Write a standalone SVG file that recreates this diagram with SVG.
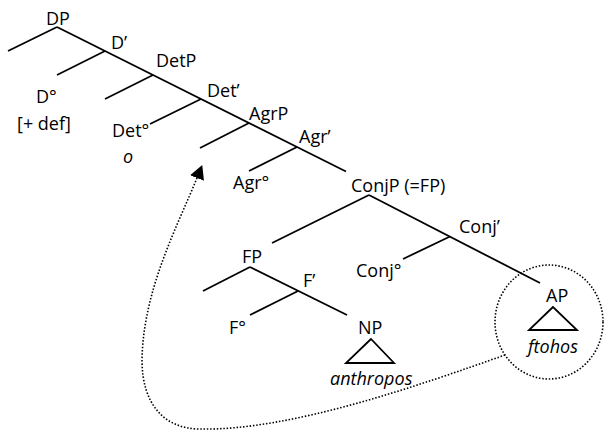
<svg xmlns="http://www.w3.org/2000/svg" width="604" height="432" viewBox="0 0 604 432">
<style>
.t{font-family:"Open Sans","Noto Sans","Liberation Sans",sans-serif;font-size:18px;fill:#000}
.i{font-style:italic}
.e{stroke:#000;stroke-width:1.8;fill:none;stroke-linecap:butt}
.tri{stroke:#000;stroke-width:1.8;fill:none;stroke-linejoin:miter}
.dot{stroke:#000;stroke-width:1.6;fill:none;stroke-dasharray:1.5 1.8}
</style>
<defs>
<marker id="ah" markerUnits="userSpaceOnUse" markerWidth="14" markerHeight="15" refX="0" refY="7.5" orient="auto" viewBox="0 0 14 15">
<path d="M0,0 L14,7.5 L0,15 z" fill="#000"/>
</marker>
</defs>
<rect width="604" height="432" fill="#fff"/>
<g id="connectors">
<line class="e" x1="57" y1="27" x2="346" y2="171.5"/>
<line class="e" x1="57" y1="27" x2="8" y2="51"/>
<line class="e" x1="105" y1="51" x2="57" y2="75"/>
<line class="e" x1="153" y1="75" x2="105" y2="99"/>
<line class="e" x1="201" y1="99" x2="150" y2="124"/>
<line class="e" x1="249" y1="123" x2="200" y2="148"/>
<line class="e" x1="297" y1="147" x2="249" y2="171"/>
<line class="e" x1="369" y1="195" x2="272" y2="243"/>
<line class="e" x1="369" y1="195" x2="540" y2="283"/>
<line class="e" x1="450" y1="236.5" x2="403" y2="259"/>
<line class="e" x1="250" y1="267" x2="203" y2="291"/>
<line class="e" x1="250" y1="267" x2="347" y2="315"/>
<line class="e" x1="298" y1="291" x2="250" y2="315"/>
<ellipse class="dot" cx="549" cy="322" rx="54" ry="57"/>
<path class="dot" d="M505,355 C420,385 290,431 200,429 C165,429 142,405 142,360 C143,290 178,225 197,178" marker-end="url(#ah)"/>
</g>
<g id="DP"><text class="t" x="46" y="25">DP</text></g>
<g id="Dbar"><text class="t" x="111" y="49">D’</text></g>
<g id="DetP"><text class="t" x="156" y="67">DetP</text></g>
<g id="Detbar"><text class="t" x="207" y="97">Det’</text></g>
<g id="AgrP"><text class="t" x="249" y="120">AgrP</text></g>
<g id="Agrbar"><text class="t" x="299" y="143">Agr’</text></g>
<g id="D0"><text class="t" x="36" y="103">D°</text><text class="t" x="17" y="130">[+ def]</text></g>
<g id="Det0"><text class="t" x="112" y="137">Det°</text><text class="t i" x="123" y="163">o</text></g>
<g id="Agr0"><text class="t" x="233" y="189">Agr°</text></g>
<g id="ConjP"><text class="t" x="351" y="192">ConjP (=FP)</text></g>
<g id="Conjbar"><text class="t" x="459" y="233">Conj’</text></g>
<g id="FP"><text class="t" x="242" y="263">FP</text></g>
<g id="Conj0"><text class="t" x="356" y="277">Conj°</text></g>
<g id="Fbar"><text class="t" x="303" y="287">F’</text></g>
<g id="F0"><text class="t" x="229" y="334">F°</text></g>
<g id="NP"><text class="t" x="358" y="334">NP</text><polygon class="tri" points="371,339 346,363 394,363"/><text class="t i" x="330" y="385">anthropos</text></g>
<g id="AP"><text class="t" x="546" y="302">AP</text><polygon class="tri" points="553,307 529,330 577,330"/><text class="t i" x="528" y="353">ftohos</text></g>
</svg>
